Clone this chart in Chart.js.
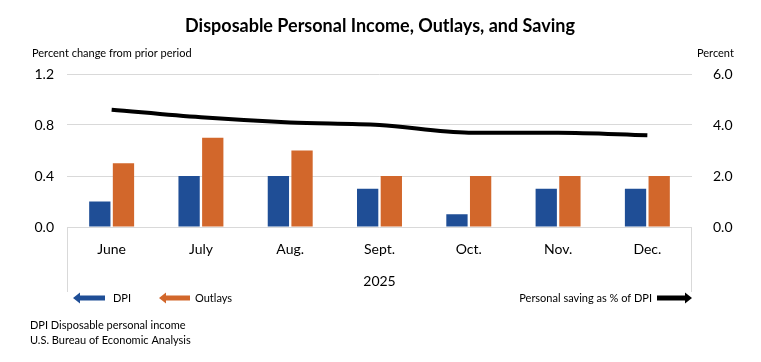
<!DOCTYPE html>
<html>
<head>
<meta charset="utf-8">
<script src="https://cdn.jsdelivr.net/npm/chart.js@4.4.1/dist/chart.umd.min.js"></script>
<style>
  html, body { margin: 0; padding: 0; background: #fff; }
  #wrap { position: relative; width: 761px; height: 362px; }
</style>
</head>
<body>
<div id="wrap"><canvas id="chart"></canvas></div>
<script>
/* ===============================
   DATA
================================ */
const months = ["June", "July", "Aug.", "Sept.", "Oct.", "Nov.", "Dec."];
const dpi = [0.2, 0.4, 0.4, 0.3, 0.1, 0.3, 0.3];
const outlays = [0.5, 0.7, 0.6, 0.4, 0.4, 0.4, 0.4];
const savingRate = [4.6, 4.3, 4.1, 4.0, 3.7, 3.7, 3.6];
const leftTicks = [0, 0.4, 0.8, 1.2];
const rightTicks = [0, 2, 4, 6];

const FONT = "Lato, 'Open Sans', sans-serif";
const BLUE = "#1f4e96";
const ORANGE = "#d2672b";

/* ===============================
   HELPERS
================================ */
function arrow(ctx, x1, x2, y, dir, color) {
  // dir: -1 points left, 1 points right
  const head = 7;
  ctx.fillStyle = color;
  ctx.beginPath();
  if (dir < 0) {
    ctx.moveTo(x1, y);
    ctx.lineTo(x1 + head, y - 5.5);
    ctx.lineTo(x1 + head, y - 2.5);
    ctx.lineTo(x2, y - 2.5);
    ctx.lineTo(x2, y + 2.5);
    ctx.lineTo(x1 + head, y + 2.5);
    ctx.lineTo(x1 + head, y + 5.5);
  } else {
    ctx.moveTo(x2, y);
    ctx.lineTo(x2 - head, y - 5.5);
    ctx.lineTo(x2 - head, y - 2.5);
    ctx.lineTo(x1, y - 2.5);
    ctx.lineTo(x1, y + 2.5);
    ctx.lineTo(x2 - head, y + 2.5);
    ctx.lineTo(x2 - head, y + 5.5);
  }
  ctx.closePath();
  ctx.fill();
}

const decor = {
  id: "decor",
  afterDraw(chart) {
    const ctx = chart.ctx;
    const area = chart.chartArea;
    ctx.save();

    // title
    ctx.fillStyle = "#000";
    ctx.textBaseline = "middle";
    ctx.textAlign = "center";
    ctx.font = "bold 18px " + FONT;
    ctx.fillText("Disposable Personal Income, Outlays, and Saving", 380, 26);

    // axis titles
    ctx.font = "11px " + FONT;
    ctx.textAlign = "left";
    ctx.fillText("Percent change from prior period", 32, 53);
    ctx.fillText("Percent", 697, 53);

    // category axis side lines
    ctx.strokeStyle = "#d9d9d9";
    ctx.lineWidth = 1;
    ctx.beginPath();
    ctx.moveTo(area.left + 0.5, area.bottom);
    ctx.lineTo(area.left + 0.5, 292);
    ctx.moveTo(area.right - 0.5, area.bottom);
    ctx.lineTo(area.right - 0.5, 292);
    ctx.stroke();

    // year label
    ctx.font = "14px " + FONT;
    ctx.textAlign = "center";
    ctx.fillText("2025", (area.left + area.right) / 2, 281);

    // legend
    ctx.font = "11px " + FONT;
    ctx.textAlign = "left";
    arrow(ctx, 73, 105, 298, -1, BLUE);
    ctx.fillStyle = "#000";
    ctx.fillText("DPI", 113, 298);
    arrow(ctx, 159, 190, 298, -1, ORANGE);
    ctx.fillStyle = "#000";
    ctx.fillText("Outlays", 195, 298);
    ctx.textAlign = "right";
    ctx.fillText("Personal saving as % of DPI", 652, 298);
    arrow(ctx, 657, 692, 298, 1, "#000");

    // notes
    ctx.fillStyle = "#000";
    ctx.textAlign = "left";
    ctx.fillText("DPI Disposable personal income", 30, 325);
    ctx.fillText("U.S. Bureau of Economic Analysis", 30, 340);

    ctx.restore();
  },
};

/* ===============================
   CHART
================================ */
new Chart(document.getElementById("chart"), {
  type: "bar",
  data: {
    labels: months,
    datasets: [
      {
        type: "line",
        label: "Personal saving as % of DPI",
        data: savingRate,
        yAxisID: "y1",
        borderColor: "#000",
        borderWidth: 4,
        pointRadius: 0,
        cubicInterpolationMode: "monotone",
        order: 0,
      },
      {
        label: "DPI",
        data: dpi,
        backgroundColor: BLUE,
        barPercentage: 0.9,
        categoryPercentage: 0.53,
        order: 1,
      },
      {
        label: "Outlays",
        data: outlays,
        backgroundColor: ORANGE,
        barPercentage: 0.9,
        categoryPercentage: 0.53,
        order: 1,
      },
    ],
  },
  options: {
    responsive: true,
    maintainAspectRatio: false,
    animation: false,
    layout: { padding: { top: 74, left: 0, right: 0, bottom: 0 } },
    plugins: {
      legend: { display: false },
      title: { display: false },
      tooltip: { enabled: false },
    },
    scales: {
      x: {
        grid: { display: false, drawTicks: false },
        border: { display: false },
        ticks: { color: "#000", font: { family: FONT, size: 14 }, padding: 14 },
        afterFit: (s) => { s.height = 135; },
      },
      y: {
        position: "left",
        min: 0,
        max: 1.2,
        afterBuildTicks: (s) => { s.ticks = leftTicks.map((v) => ({ value: v })); },
        grid: { color: "#d9d9d9", drawTicks: false },
        border: { display: false },
        ticks: {
          color: "#000",
          font: { family: FONT, size: 14 },
          padding: 13,
          callback: (v) => Number(v).toFixed(1),
        },
        afterFit: (s) => { s.width = 67; },
      },
      y1: {
        position: "right",
        min: 0,
        max: 6,
        afterBuildTicks: (s) => { s.ticks = rightTicks.map((v) => ({ value: v })); },
        grid: { display: false, drawTicks: false },
        border: { display: false },
        ticks: {
          color: "#000",
          font: { family: FONT, size: 14 },
          padding: 21,
          callback: (v) => Number(v).toFixed(1),
        },
        afterFit: (s) => { s.width = 69; },
      },
    },
  },
  plugins: [decor],
});
</script>
</body>
</html>
